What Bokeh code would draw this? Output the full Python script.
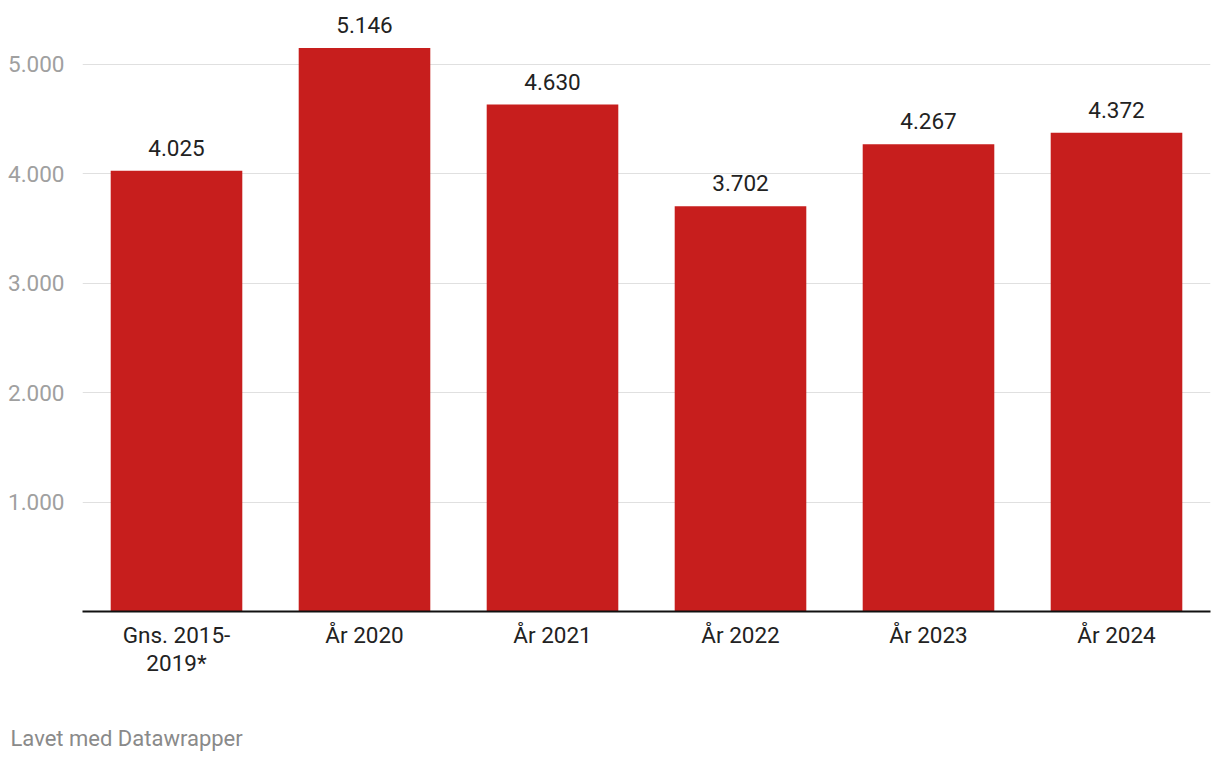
from bokeh.plotting import figure
from bokeh.layouts import column
from bokeh.models import Range1d, FixedTicker, Title
from bokeh.core.properties import value
from bokeh.embed import file_html
from bokeh.resources import INLINE

categories = ["Gns. 2015-\n2019*", "År 2020", "År 2021", "År 2022", "År 2023", "År 2024"]
values = [4025, 5146, 4630, 3702, 4267, 4372]
value_labels = ["4.025", "5.146", "4.630", "3.702", "4.267", "4.372"]
y_ticks = [1000, 2000, 3000, 4000, 5000]
y_tick_labels = ["1.000", "2.000", "3.000", "4.000", "5.000"]
footer_text = "Lavet med Datawrapper"

FONT = "Roboto"
FS = "22.5px"

p = figure(width=1220, height=700, x_range=categories, y_range=Range1d(0, 5489),
           output_backend="svg", toolbar_location=None,
           min_border_left=82, min_border_right=10, min_border_top=10, min_border_bottom=89)
p.outline_line_color = None
p.background_fill_color = "white"
p.border_fill_color = "white"

p.vbar(x=categories, top=values, width=0.7, color="#c71e1d", line_color=None)

p.text(x=categories, y=values, text=value_labels, text_align="center", text_baseline="bottom",
       y_offset=-15, text_font=value(FONT), text_font_size=FS, text_color="#222222")

p.yaxis.ticker = FixedTicker(ticks=y_ticks)
p.yaxis.major_label_overrides = {t: l for t, l in zip(y_ticks, y_tick_labels)}
p.yaxis.axis_line_color = None
p.yaxis.major_tick_line_color = None
p.yaxis.minor_tick_line_color = None
p.yaxis.major_label_standoff = 12
p.yaxis.major_label_text_font = FONT
p.yaxis.major_label_text_font_size = FS
p.yaxis.major_label_text_color = "#a0a0a0"

p.xaxis.axis_line_color = "#111111"
p.xaxis.axis_line_width = 2
p.xaxis.major_tick_line_color = None
p.xaxis.minor_tick_line_color = None
p.xaxis.major_label_standoff = 4
p.xaxis.major_label_text_font = FONT
p.xaxis.major_label_text_font_size = FS
p.xaxis.major_label_text_line_height = 1.08
p.xaxis.major_label_text_color = "#222222"

p.xgrid.grid_line_color = None
p.ygrid.grid_line_color = "#e0e0e0"
p.ygrid.grid_line_width = 1

f = figure(width=1220, height=60, x_range=Range1d(0, 1), y_range=Range1d(0, 1),
           output_backend="svg", toolbar_location=None,
           min_border_left=0, min_border_right=0, min_border_top=0, min_border_bottom=0)
f.axis.visible = False
f.grid.visible = False
f.outline_line_color = None
f.background_fill_color = "white"
f.border_fill_color = "white"
f.add_layout(Title(text=footer_text, align="left", offset=-72, standoff=18,
                   vertical_align="middle", text_font=FONT, text_font_size="22px",
                   text_font_style="normal", text_color="#8a8a8a"), "below")

layout = column(p, f, spacing=0)
open("out.html", "w").write(file_html(layout, INLINE))
